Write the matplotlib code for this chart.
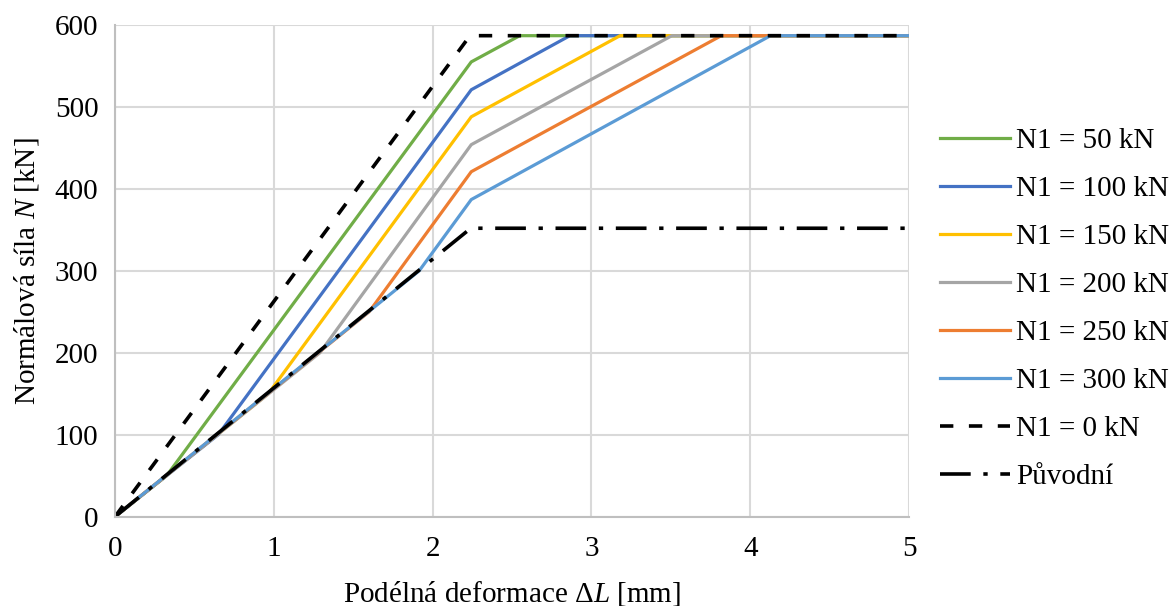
import matplotlib
matplotlib.use("Agg")
import matplotlib.pyplot as plt

plt.rcParams['font.family'] = ['Liberation Serif', 'DejaVu Serif']
plt.rcParams['mathtext.fontset'] = 'custom'
plt.rcParams['mathtext.it'] = 'Liberation Serif:italic'
plt.rcParams['mathtext.rm'] = 'Liberation Serif'

labels = ["N1 = 50 kN", "N1 = 100 kN", "N1 = 150 kN", "N1 = 200 kN",
          "N1 = 250 kN", "N1 = 300 kN"]
colors = ["#70AD47", "#4472C4", "#FFC000", "#A5A5A5", "#ED7D31", "#5B9BD5"]

# each series: origin -> branch point on base line -> kink -> reaches plateau -> end
series_x = [
    [0, 0.325, 2.243, 2.548, 5],
    [0, 0.650, 2.243, 2.864, 5],
    [0, 0.965, 2.243, 3.180, 5],
    [0, 1.290, 2.243, 3.506, 5],
    [0, 1.600, 2.243, 3.817, 5],
    [0, 1.915, 2.243, 4.127, 5],
]
series_y = [
    [0, 50, 555, 587, 587],
    [0, 100, 521, 587, 587],
    [0, 150, 488, 587, 587],
    [0, 200, 454, 587, 587],
    [0, 250, 421, 587, 587],
    [0, 300, 387, 587, 587],
]

n0_x = [0, 2.235, 5]
n0_y = [0, 587, 587]

orig_x = [0, 2.24, 5]
orig_y = [0, 352, 352]

fig = plt.figure(figsize=(11.71, 6.06), dpi=100)
ax = fig.add_axes([0.0982, 0.1474, 0.7764 - 0.0982, 0.9587 - 0.1474])

for xs, ys, c, lab in zip(series_x, series_y, colors, labels):
    ax.plot(xs, ys, color=c, lw=2.3, label=lab, solid_joinstyle='round')

ax.plot(n0_x, n0_y, color='black', lw=2.6, dashes=(3.7, 4.3), label="N1 = 0 kN")
ax.plot(orig_x, orig_y, color='black', lw=2.6, dashes=(8.5, 3.5, 1.2, 3.5),
        label="Původní")

ax.set_xlim(0, 5)
ax.set_ylim(0, 600)
ax.set_xticks([0, 1, 2, 3, 4, 5])
ax.set_yticks([0, 100, 200, 300, 400, 500, 600])
ax.grid(True, color='#d9d9d9', lw=1.5)
ax.set_axisbelow(True)
for s in ['top', 'right']:
    ax.spines[s].set_visible(False)
for s in ['left', 'bottom']:
    ax.spines[s].set_color('#bfbfbf')
    ax.spines[s].set_linewidth(1.5)
ax.tick_params(length=0, labelsize=21, pad=12)
ax.tick_params(axis='x', pad=14)

ax.set_xlabel(r"Podélná deformace $\Delta\mathit{L}$ [mm]", fontsize=21, labelpad=12)
ax.set_ylabel(r"Normálová síla $\mathit{N}$ [kN]", fontsize=21, labelpad=10)

leg = fig.legend(loc='center left', bbox_to_anchor=(0.8027, 0.490), frameon=False,
                 fontsize=21, handlelength=2.4, handletextpad=0.2,
                 labelspacing=0.74, borderpad=0, borderaxespad=0)

fig.savefig("out.png", dpi=100)
